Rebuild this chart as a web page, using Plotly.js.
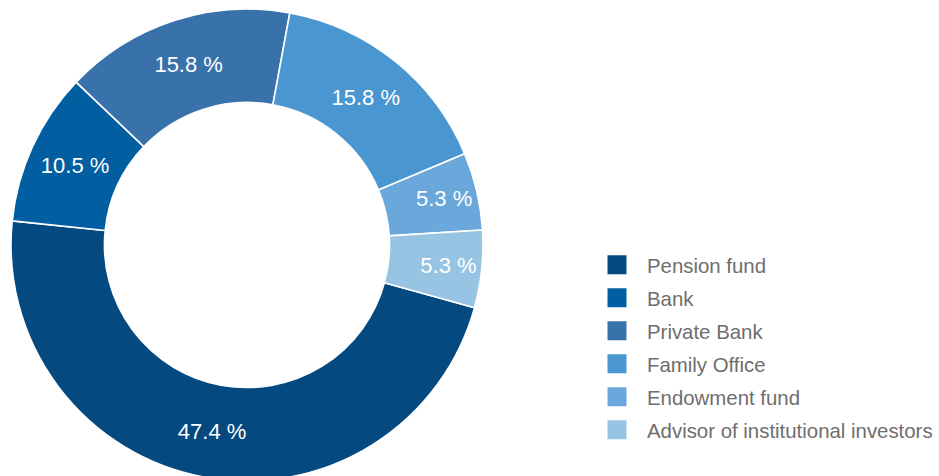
<!DOCTYPE html>
<html>
<head>
<meta charset="utf-8">
<script src="https://cdn.plot.ly/plotly-3.0.1.min.js"></script>
<style>
  html, body { margin: 0; padding: 0; overflow: hidden; background: #fff; }
  #chart { width: 939px; height: 490px; }
</style>
</head>
<body>
<div id="chart"></div>
<script>
const categories = ["Pension fund", "Bank", "Private Bank", "Family Office", "Endowment fund", "Advisor of institutional investors"];
const shares = [47.4, 10.5, 15.8, 15.8, 5.3, 5.3];
const colors = ["#04497f", "#005ea1", "#3972aa", "#4a96d1", "#6aa8dc", "#97c4e3"];

const W = 939, H = 490;
const cx = 247, cy = 245, R = 236;
const ROW = 33;

const trace = {
  type: "pie",
  labels: categories,
  values: shares,
  sort: false,
  direction: "clockwise",
  rotation: 105.4,
  hole: 0.604,
  marker: { colors: colors, line: { color: "#ffffff", width: 1.6 } },
  texttemplate: "%{value:.1f} %",
  textposition: "inside",
  insidetextorientation: "horizontal",
  textfont: { color: "#ffffff", size: 22, family: "Liberation Sans, Arial, sans-serif" },
  hoverinfo: "label+value",
  domain: {
    x: [(cx - R) / W, (cx + R) / W],
    y: [(H - cy - R) / H, (H - cy + R) / H]
  }
};

const layout = {
  width: W,
  height: H,
  margin: { l: 0, r: 0, t: 0, b: 0, pad: 0 },
  paper_bgcolor: "#ffffff",
  showlegend: true,
  legend: {
    x: 607 / W,
    xanchor: "left",
    y: 1 - 245 / H,
    yanchor: "top",
    font: { size: 20.4, color: "#6e6e6e", family: "Liberation Sans, Arial, sans-serif" },
    bgcolor: "rgba(0,0,0,0)",
    borderwidth: 0
  }
};

Plotly.newPlot("chart", [trace], layout, { staticPlot: true }).then(function () {
  const leg = document.querySelector(".legend");
  if (!leg) return;
  leg.querySelectorAll("[clip-path]").forEach(function (el) { el.removeAttribute("clip-path"); });
  const items = leg.querySelectorAll(".traces");
  let y0 = null;
  items.forEach(function (g, i) {
    const t = g.getAttribute("transform") || "";
    const m = t.match(/translate\(\s*([-\d.]+)[ ,]+([-\d.]+)\s*\)/);
    const x = m ? parseFloat(m[1]) : 0;
    const y = m ? parseFloat(m[2]) : 0;
    if (y0 === null) y0 = y;
    g.setAttribute("transform", "translate(" + x + "," + (y0 + i * ROW) + ")");
  });
  leg.querySelectorAll(".legendpoints path").forEach(function (p) {
    p.setAttribute("transform", "translate(10,0) scale(1.583)");
    p.style.strokeWidth = "0";
  });
});
</script>
</body>
</html>
